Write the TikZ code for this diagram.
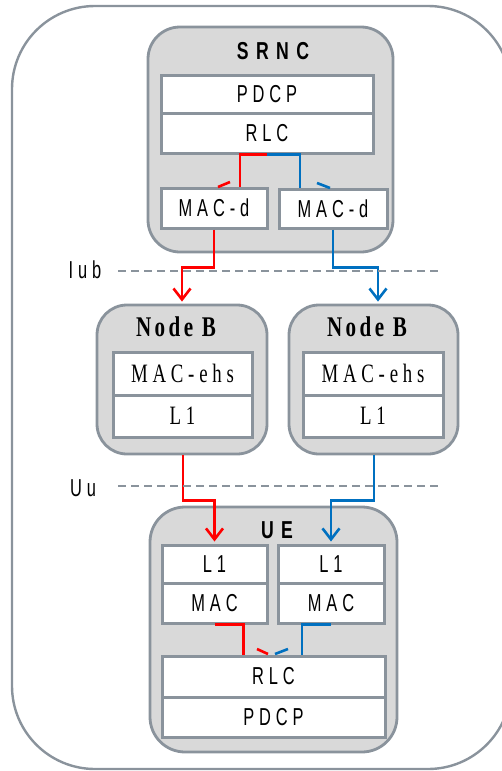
\documentclass[tikz,border=0pt]{standalone}
\usepackage{fontspec}
\usepackage{xcolor}
\usepackage{tikz}
\usetikzlibrary{arrows.meta,positioning,calc}

\newfontfamily\sanslab[FakeStretch=0.67,LetterSpace=20]{Liberation Sans}
\newfontfamily\sanshead[FakeStretch=0.72,LetterSpace=30]{Liberation Sans}
\newfontfamily\serlab[FakeStretch=0.71,LetterSpace=18]{Liberation Serif}
\newfontfamily\serhead[FakeStretch=0.74,LetterSpace=12]{Liberation Serif}

\definecolor{edgegray}{HTML}{8A939C}
\definecolor{boxfill}{HTML}{D9D9D9}
\definecolor{linkred}{HTML}{FF0000}
\definecolor{linkblue}{HTML}{0070C0}

\begin{document}
\begin{tikzpicture}[
  x=1pt, y=-1pt,
  entity/.style={draw=edgegray, fill=boxfill, line width=2.8pt,
                 rounded corners=32pt, inner sep=0pt},
  layer/.style={draw=edgegray, fill=white, line width=3pt, inner sep=0pt,
                font=\sanslab\fontsize{24.5}{26}\selectfont},
  serlayer/.style={layer, font=\serlab\fontsize{26.5}{28}\selectfont},
  head/.style={font=\sanshead\bfseries\fontsize{24.5}{26}\selectfont},
  serhd/.style={font=\serhead\bfseries\fontsize{28.5}{30}\selectfont},
  iface/.style={font=\sanslab\fontsize{24.5}{26}\selectfont},
  redlink/.style={draw=linkred, line width=2.6pt},
  bluelink/.style={draw=linkblue, line width=2.6pt},
  tip/.style={-{Straight Barb[length=11pt,width=17pt,line width=2.6pt]}},
  cut/.style={draw=edgegray, line width=2.4pt, dash pattern=on 8pt off 5pt}
]
\useasboundingbox (0,0) rectangle (501,771);

% outer frame
\draw[draw=edgegray, line width=2.4pt, rounded corners=83pt]
  (12,6) rectangle (511,769);

%--- SRNC ---
\node[entity, minimum width=245pt, minimum height=225pt] (srnc) at (270.5,139.5) {};
\node[head] (srnclab) at (273,51) {SRNC};
\node[layer, minimum width=212pt, minimum height=38pt] (spdcp) at (267,94) {PDCP};
\node[layer, minimum width=212pt, minimum height=40pt] (srlc) at (267,133) {RLC};
\node[layer, minimum width=106pt, minimum height=40pt] (smacl) at (214,208) {MAC-d};
\node[layer, minimum width=108pt, minimum height=39pt] (smacr) at (333,208.5) {MAC-d};

%--- Node B ---
\node[entity, rounded corners=30pt, minimum width=170pt, minimum height=149pt]
  (nbl) at (182,379.5) {};
\node[entity, rounded corners=30pt, minimum width=169pt, minimum height=149pt]
  (nbr) at (373.5,379.5) {};
\node[serhd] (nbllab) at (176,327) {Node B};
\node[serhd] (nbrlab) at (367,327) {Node B};
\node[serlayer, minimum width=139pt, minimum height=43pt] (nmacl) at (182.5,373.5) {MAC-ehs};
\node[serlayer, minimum width=139pt, minimum height=42pt] (nl1l) at (182.5,416) {L1};
\node[serlayer, minimum width=140pt, minimum height=43pt] (nmacr) at (373,373.5) {MAC-ehs};
\node[serlayer, minimum width=140pt, minimum height=42pt] (nl1r) at (373,416) {L1};

%--- UE ---
\node[entity, rounded corners=35pt, minimum width=247pt, minimum height=245pt]
  (ue) at (273.5,629.5) {};
\node[head] (uelab) at (277,530) {UE};
\node[layer, minimum width=105pt, minimum height=38pt] (ul1l) at (214.5,564) {L1};
\node[layer, minimum width=105pt, minimum height=40pt] (umacl) at (214.5,603) {MAC};
\node[layer, minimum width=106pt, minimum height=38pt] (ul1r) at (331,564) {L1};
\node[layer, minimum width=106pt, minimum height=40pt] (umacr) at (331,603) {MAC};
\node[layer, minimum width=223pt, minimum height=41pt] (urlc) at (273.5,676.5) {RLC};
\node[layer, minimum width=223pt, minimum height=40pt] (updcp) at (273.5,717) {PDCP};

% links inside SRNC
\draw[redlink] (srlc.south) -| ([xshift=26pt]smacl.north);
\draw[bluelink] (srlc.south) -| ([xshift=-33pt]smacr.north);
\draw[redlink] (218,187) -- (230,182);
\draw[bluelink] (317,183) -- (330,188);

% SRNC to Node B
\draw[redlink, tip] (smacl.south) -- ++(0,38) -| ([yshift=2pt]nbl.north);
\draw[bluelink, tip] (smacr.south) -- ++(0,38) -| ([xshift=4.5pt,yshift=2pt]nbr.north);

% Node B to UE
\draw[redlink, tip] ([xshift=1pt]nbl.south) -- ++(0,45) -| ([yshift=2pt]ul1l.north);
\draw[bluelink, tip] ([xshift=0.5pt]nbr.south) -- ++(0,45) -| ([yshift=2pt]ul1r.north);

% links inside UE
\draw[redlink] (umacl.south) -| ([xshift=-30pt]urlc.north);
\draw[bluelink] (umacr.south) -| ([xshift=28.5pt]urlc.north);
\draw[redlink] (257,649) -- (268,654);
\draw[bluelink] (275,654) -- (288,649);

% interfaces
\node[iface] (iub) at (85,270) {Iub};
\node[iface] (uu) at (83,488) {Uu};
\draw[cut] (118,271) -- (438,271);
\draw[cut] (118,486) -- (438,486);

\end{tikzpicture}
\end{document}
